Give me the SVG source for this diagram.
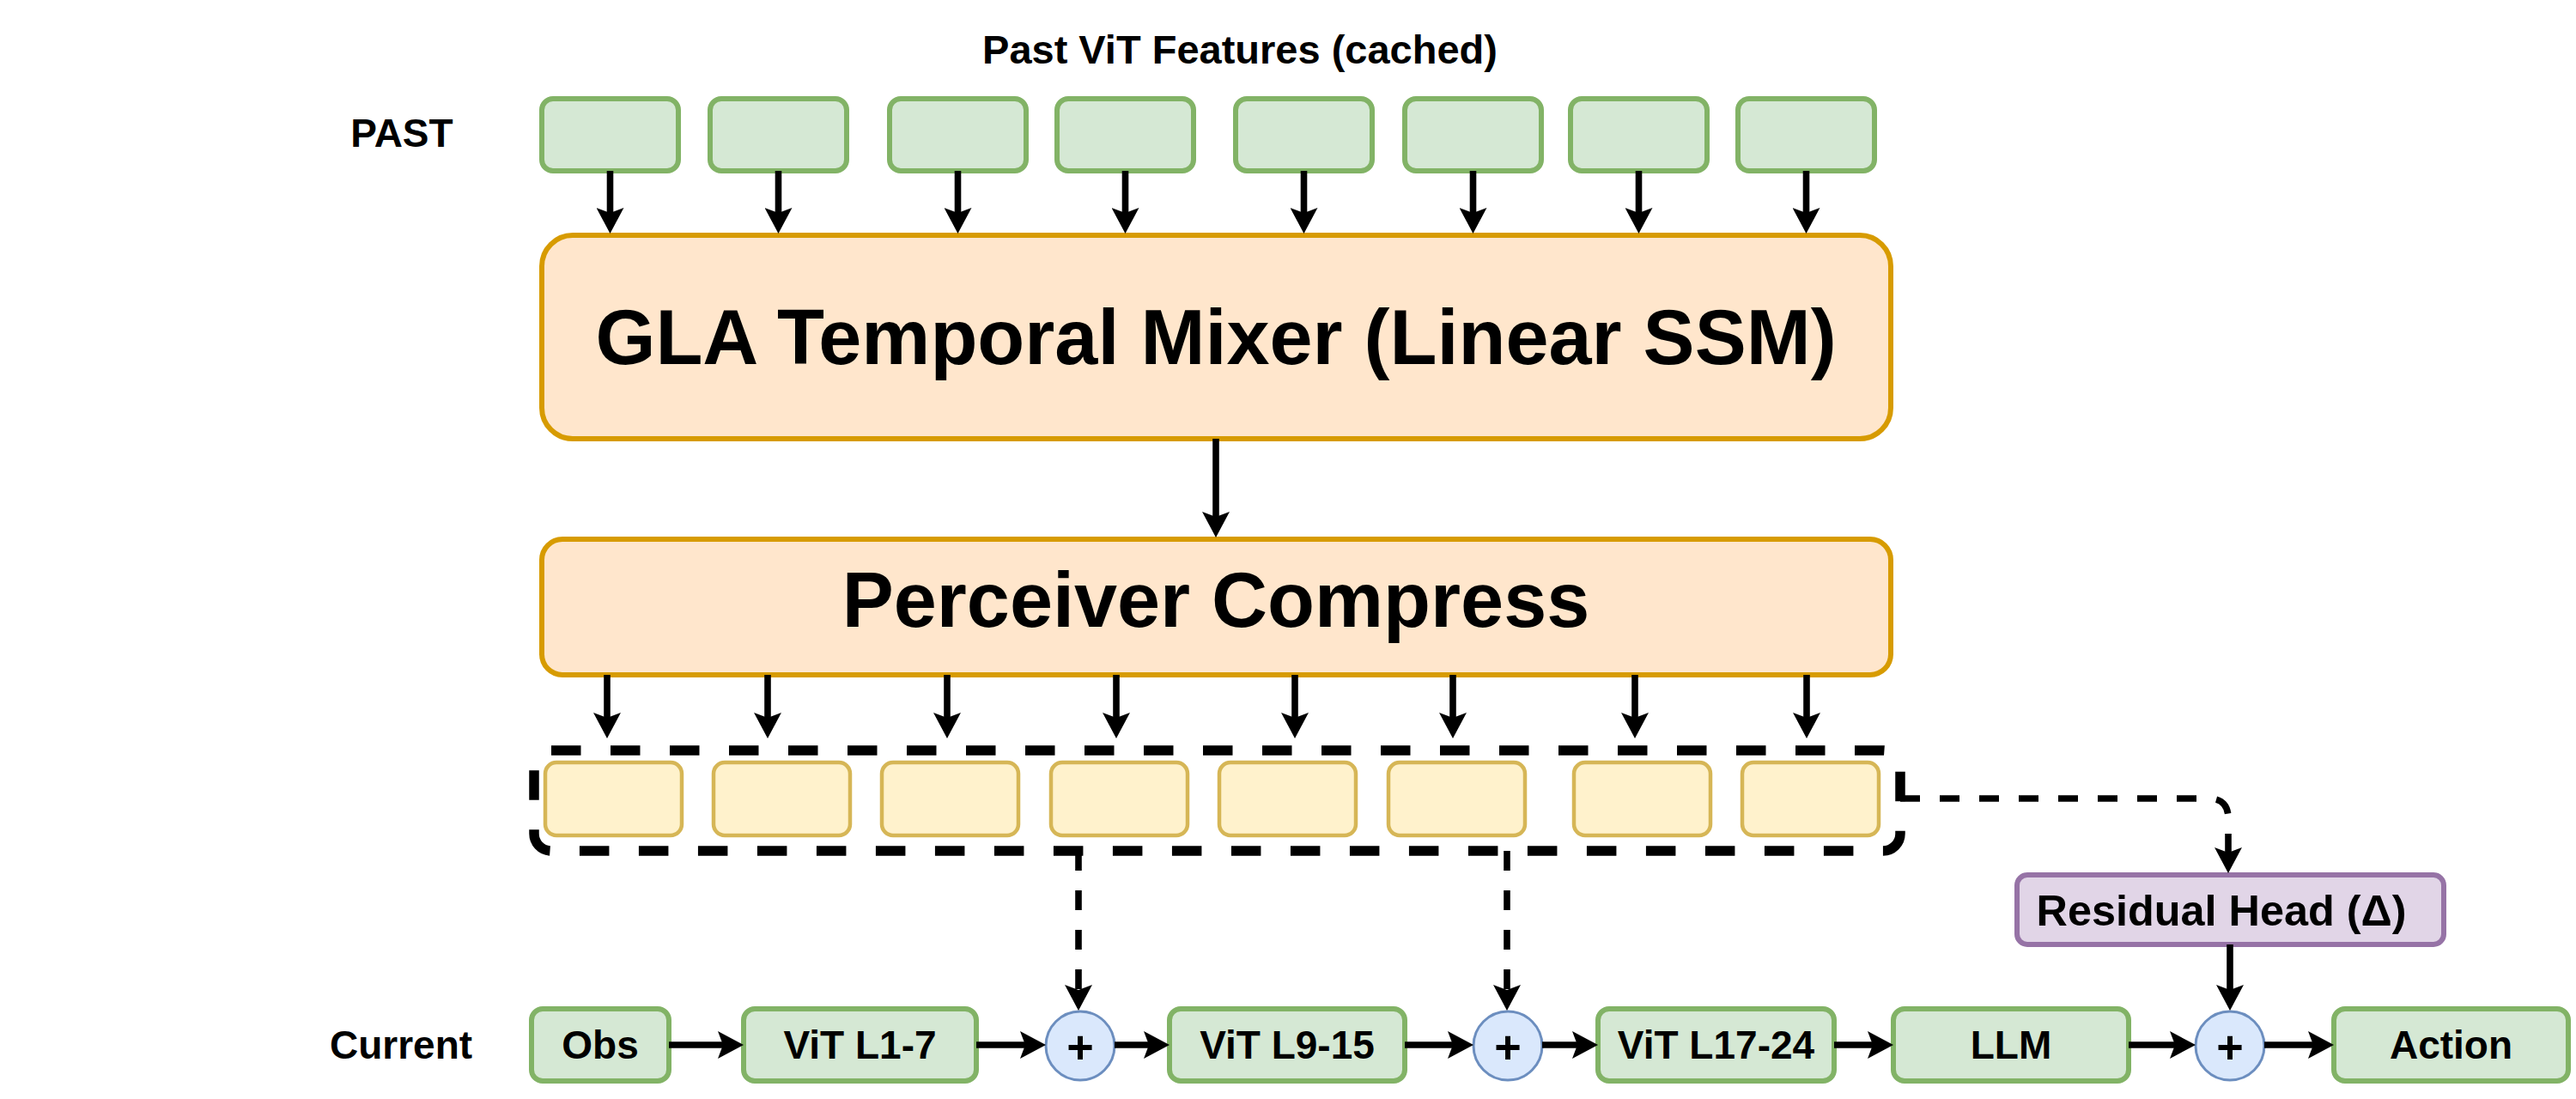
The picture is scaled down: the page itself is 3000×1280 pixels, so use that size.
<svg xmlns="http://www.w3.org/2000/svg" width="3000" height="1280" viewBox="0 0 3000 1280">
<style>
  text { font-family: "Liberation Sans", Arial, sans-serif; font-weight: bold; fill: #000; text-anchor: middle; }
  .lbl { font-size: 46px; }
  .ttl { font-size: 47px; }
  .plus { font-size: 54px; }
  .big { font-size: 90px; }
  .green { fill: #d5e8d4; stroke: #82b366; stroke-width: 6; }
  .orange { fill: #ffe6cc; stroke: #d79b00; stroke-width: 6; }
  .yellow { fill: #fff2cc; stroke: #d6b656; stroke-width: 4.5; }
  .purple { fill: #e1d5e7; stroke: #9673a6; stroke-width: 6; }
  .blue { fill: #dae8fc; stroke: #6c8ebf; stroke-width: 3; }
  .group { fill: none; stroke: #000; stroke-width: 11.5; stroke-dasharray: 34.5 34.5; }
  .conn { fill: none; stroke: #000; stroke-width: 7.6; marker-end: url(#arr); }
  .dash { stroke-dasharray: 23 23; }
</style>
<defs>
  <marker id="arr" viewBox="0 0 30 32" refX="20" refY="16" markerWidth="30" markerHeight="32" markerUnits="userSpaceOnUse" orient="auto">
    <path d="M0,0 L30,16 L0,32 L6,16 z" fill="#000" stroke="none"/>
  </marker>
</defs>
<rect width="3000" height="1280" fill="#fff"/>

<g id="title"><text class="ttl" x="1444" y="74">Past ViT Features (cached)</text></g>
<g id="past-label"><text class="lbl" x="468" y="171">PAST</text></g>
<g id="current-label"><text class="lbl" x="467" y="1233">Current</text></g>

<g id="past-features">
  <rect id="pf1" class="green" x="631" y="115" width="159" height="84" rx="13"/>
  <rect id="pf2" class="green" x="827" y="115" width="159" height="84" rx="13"/>
  <rect id="pf3" class="green" x="1036" y="115" width="159" height="84" rx="13"/>
  <rect id="pf4" class="green" x="1231" y="115" width="159" height="84" rx="13"/>
  <rect id="pf5" class="green" x="1439" y="115" width="159" height="84" rx="13"/>
  <rect id="pf6" class="green" x="1636" y="115" width="159" height="84" rx="13"/>
  <rect id="pf7" class="green" x="1829" y="115" width="159" height="84" rx="13"/>
  <rect id="pf8" class="green" x="2024" y="115" width="159" height="84" rx="13"/>
</g>

<g id="gla">
  <rect class="orange" x="631" y="274" width="1571" height="237" rx="36"/>
  <text class="big" x="1416" y="424">GLA Temporal Mixer (Linear SSM)</text>
</g>

<g id="perceiver">
  <rect class="orange" x="631" y="628" width="1571" height="158" rx="24"/>
  <text class="big" x="1416" y="730">Perceiver Compress</text>
</g>

<g id="latents">
  <rect class="group" x="622" y="874" width="1591" height="117" rx="20"/>
  <rect id="lt1" class="yellow" x="635" y="888" width="159" height="85" rx="13"/>
  <rect id="lt2" class="yellow" x="831" y="888" width="159" height="85" rx="13"/>
  <rect id="lt3" class="yellow" x="1027" y="888" width="159" height="85" rx="13"/>
  <rect id="lt4" class="yellow" x="1224" y="888" width="159" height="85" rx="13"/>
  <rect id="lt5" class="yellow" x="1420" y="888" width="159" height="85" rx="13"/>
  <rect id="lt6" class="yellow" x="1617" y="888" width="159" height="85" rx="13"/>
  <rect id="lt7" class="yellow" x="1833" y="888" width="159" height="85" rx="13"/>
  <rect id="lt8" class="yellow" x="2029" y="888" width="159" height="85" rx="13"/>
</g>

<g id="residual-head">
  <rect class="purple" x="2349" y="1019" width="497" height="81" rx="12"/>
  <text x="2587" y="1078" font-size="50" textLength="431" lengthAdjust="spacingAndGlyphs">Residual Head (Δ)</text>
</g>

<g id="obs"><rect class="green" x="619" y="1175" width="160" height="84" rx="13"/><text class="lbl" x="699" y="1233">Obs</text></g>
<g id="vit1"><rect class="green" x="866" y="1175" width="271" height="84" rx="13"/><text class="lbl" x="1001.5" y="1233">ViT L1-7</text></g>
<g id="plus1"><circle class="blue" cx="1258" cy="1218" r="40"/><text class="plus" x="1258" y="1238">+</text></g>
<g id="vit2"><rect class="green" x="1362" y="1175" width="274" height="84" rx="13"/><text class="lbl" x="1499" y="1233">ViT L9-15</text></g>
<g id="plus2"><circle class="blue" cx="1756" cy="1218" r="40"/><text class="plus" x="1756" y="1238">+</text></g>
<g id="vit3"><rect class="green" x="1861" y="1175" width="275" height="84" rx="13"/><text class="lbl" x="1998.5" y="1233">ViT L17-24</text></g>
<g id="llm"><rect class="green" x="2205" y="1175" width="274" height="84" rx="13"/><text class="lbl" x="2342" y="1233">LLM</text></g>
<g id="plus3"><circle class="blue" cx="2597" cy="1218" r="40"/><text class="plus" x="2597" y="1238">+</text></g>
<g id="action"><rect class="green" x="2718" y="1175" width="273" height="84" rx="13"/><text class="lbl" x="2854.5" y="1233">Action</text></g>

<g id="connectors">
  <path class="conn" d="M710.5,199 V262"/>
  <path class="conn" d="M906.5,199 V262"/>
  <path class="conn" d="M1115.5,199 V262"/>
  <path class="conn" d="M1310.5,199 V262"/>
  <path class="conn" d="M1518.5,199 V262"/>
  <path class="conn" d="M1715.5,199 V262"/>
  <path class="conn" d="M1908.5,199 V262"/>
  <path class="conn" d="M2103.5,199 V262"/>

  <path class="conn" d="M1416,511 V616"/>

  <path class="conn" d="M707,786 V850"/>
  <path class="conn" d="M894,786 V850"/>
  <path class="conn" d="M1103,786 V850"/>
  <path class="conn" d="M1300,786 V850"/>
  <path class="conn" d="M1508,786 V850"/>
  <path class="conn" d="M1692,786 V850"/>
  <path class="conn" d="M1904,786 V850"/>
  <path class="conn" d="M2104,786 V850"/>

  <path class="conn dash" d="M2213,930 H2572 Q2595,930 2595,953 V1007"/>
  <path class="conn dash" d="M1256,991 V1167"/>
  <path class="conn dash" d="M1755,991 V1167"/>
  <path class="conn" d="M2597,1100 V1167"/>

  <path class="conn" d="M779,1217 H856"/>
  <path class="conn" d="M1137,1217 H1208"/>
  <path class="conn" d="M1298,1217 H1352"/>
  <path class="conn" d="M1636,1217 H1706"/>
  <path class="conn" d="M1796,1217 H1851"/>
  <path class="conn" d="M2136,1217 H2195"/>
  <path class="conn" d="M2479,1217 H2547"/>
  <path class="conn" d="M2637,1217 H2708"/>
</g>
</svg>
